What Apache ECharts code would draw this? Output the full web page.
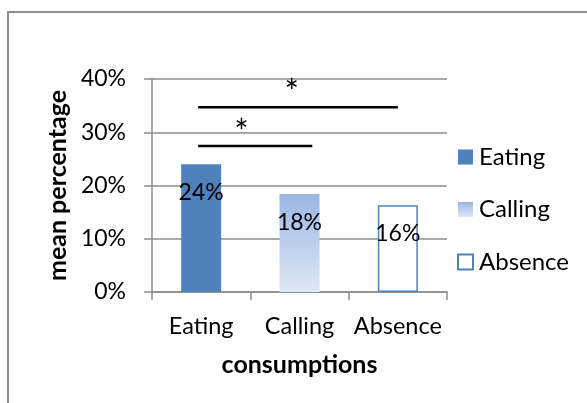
<!DOCTYPE html>
<html>
<head>
<meta charset="utf-8">
<style>
  html, body { margin: 0; padding: 0; background: #fff; }
  #frame {
    position: absolute; left: 7px; top: 11px; width: 580px; height: 392px;
    border-top: 2px solid #8c8c8c; border-left: 2px solid #8c8c8c;
  }
  #chart { position: absolute; left: 0; top: 0; width: 587px; height: 403px; }
</style>
<script src="https://cdn.jsdelivr.net/npm/echarts@6/dist/echarts.min.js"></script>
</head>
<body>
<div id="frame"></div>
<div id="chart"></div>
<script>
// Mean percentage by consumption condition
const categories = ['Eating', 'Calling', 'Absence'];
const seriesNames = ['Eating', 'Calling', 'Absence'];
const meanValues = [24, 18.4, 16.3];
const yTicks = { min: 0, max: 40, interval: 10 };

// Significance brackets: [from (category position), to, height %]
const sigLines = [[-0.03, 2.0, 34.7], [-0.03, 1.13, 27.4]];
// Asterisk positions: [category position, height %]
const sigStars = [[0.92, 37.4], [0.41, 29.9]];

const FONT = 'Lato, "Noto Sans", sans-serif';
const blue = '#4f81bd';

const styles = [
  { color: blue },
  { color: new echarts.graphic.LinearGradient(0, 0, 0, 1, [
      { offset: 0, color: '#9bb6e4' },
      { offset: 1, color: '#dfe7f5' }
    ]) },
  { color: '#ffffff', borderColor: blue, borderWidth: 1.5 }
];

// one series per condition, stacked so each bar sits centred in its category
const barSeries = seriesNames.map((name, i) => ({
  name: name,
  type: 'bar',
  stack: 'all',
  barWidth: 40,
  data: categories.map((c, j) => (j === i ? meanValues[i] : '-')),
  itemStyle: styles[i],
  label: {
    show: true,
    position: 'insideTop',
    distance: 17,
    color: '#000',
    fontFamily: FONT,
    fontSize: 23,
    formatter: p => Math.round(p.value) + '%'
  }
}));

const sigSeries = {
  type: 'custom',
  xAxisIndex: 1,
  yAxisIndex: 0,
  silent: true,
  data: sigLines,
  renderItem: function (params, api) {
    const a = api.coord([api.value(0), api.value(2)]);
    const b = api.coord([api.value(1), api.value(2)]);
    const star = sigStars[params.dataIndex];
    const s = api.coord([star[0], star[1]]);
    return {
      type: 'group',
      children: [
        { type: 'line', shape: { x1: a[0], y1: a[1], x2: b[0], y2: b[1] },
          style: { stroke: '#000', lineWidth: 2.5 } },
        { type: 'text', x: s[0], y: s[1],
          style: { text: '*', fill: '#000', fontSize: 34, fontFamily: FONT,
                   align: 'center', verticalAlign: 'middle' } }
      ]
    };
  }
};

const chart = echarts.init(document.getElementById('chart'), null, { renderer: 'canvas' });
chart.setOption({
  animation: false,
  textStyle: { fontFamily: FONT },
  grid: { left: 152, right: 140, top: 79, bottom: 111 },
  legend: {
    orient: 'vertical',
    left: 452,
    top: 140,
    itemWidth: 15,
    itemHeight: 15,
    itemGap: 28.5,
    icon: 'rect',
    data: seriesNames,
    textStyle: { fontSize: 24, color: '#000', fontFamily: FONT, padding: [0, 0, 0, 1] }
  },
  xAxis: [{
    type: 'category',
    data: categories,
    name: 'consumptions',
    nameLocation: 'middle',
    nameGap: 60,
    nameTextStyle: { fontSize: 25, fontWeight: 'bold', color: '#000', fontFamily: FONT },
    axisLine: { lineStyle: { color: '#8c8c8c', width: 1.5 } },
    axisTick: { show: true, length: 8, lineStyle: { color: '#8c8c8c', width: 1.5 } },
    axisLabel: { fontSize: 23.5, color: '#000', margin: 22, interval: 0, hideOverlap: false, fontFamily: FONT }
  }, {
    type: 'value', min: -0.5, max: 2.5, show: false
  }],
  yAxis: {
    type: 'value',
    min: yTicks.min,
    max: yTicks.max,
    interval: yTicks.interval,
    name: 'mean percentage',
    nameLocation: 'middle',
    nameGap: 78,
    nameTextStyle: { fontSize: 25, fontWeight: 'bold', color: '#000', fontFamily: FONT },
    axisLine: { show: true, onZero: false, lineStyle: { color: '#8c8c8c', width: 1.5 } },
    axisTick: { show: true, length: 8, lineStyle: { color: '#8c8c8c', width: 1.5 } },
    splitLine: { show: true, lineStyle: { color: '#8c8c8c', width: 1.5 } },
    axisLabel: { fontSize: 23, color: '#000', margin: 26, fontFamily: FONT, formatter: '{value}%' }
  },
  series: barSeries.concat([sigSeries])
});
</script>
</body>
</html>
